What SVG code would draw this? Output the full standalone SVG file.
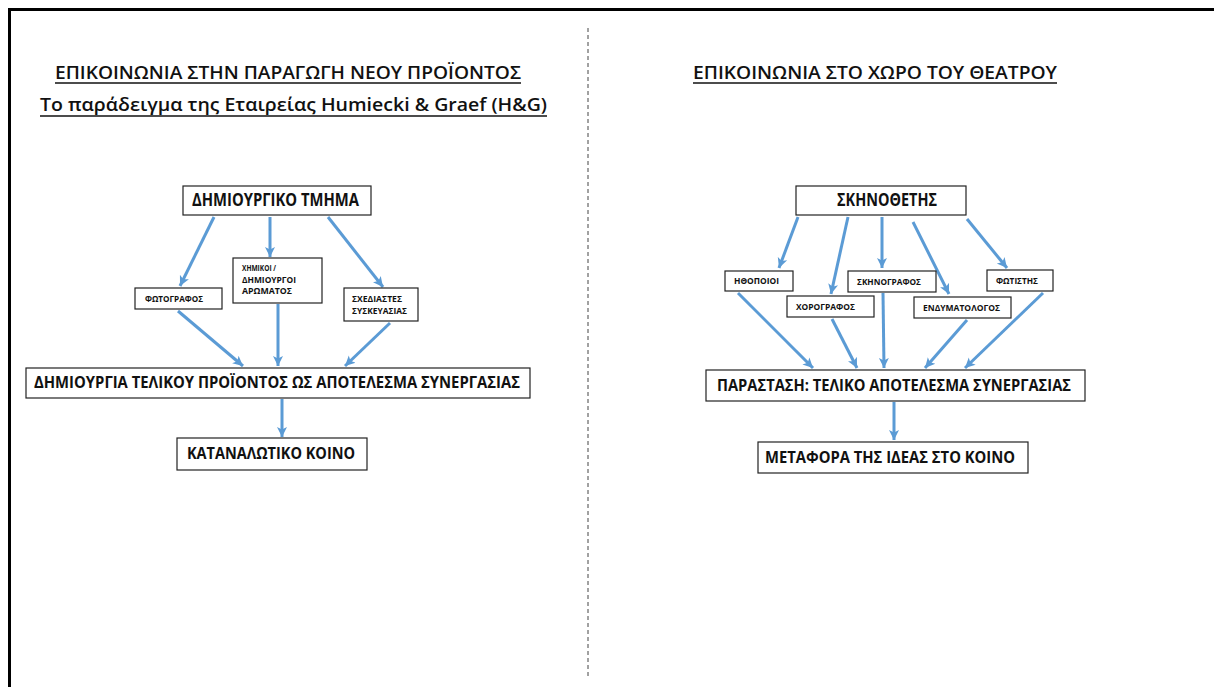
<svg xmlns="http://www.w3.org/2000/svg" width="1214" height="687" viewBox="0 0 1214 687">
<style>
.t{font-family:"Open Sans","Liberation Sans",sans-serif;font-weight:bold;fill:#111}
.h{font-family:"Open Sans","Liberation Sans",sans-serif;font-weight:600;fill:#111}
.box{fill:#fff;stroke:#222;stroke-width:1.2}
.c{stroke:#5B9BD5;stroke-width:3;fill:none;marker-end:url(#ah)}
.ul{stroke:#111;stroke-width:1.6}
</style>
<defs>
<marker id="ah" markerUnits="userSpaceOnUse" markerWidth="12" markerHeight="12" refX="10" refY="5" orient="auto" viewBox="0 0 12 10">
<path d="M0,0 L10,5 L0,10 L2.5,5 Z" fill="#5B9BD5"/>
</marker>
</defs>
<rect x="0" y="0" width="1214" height="687" fill="#fff"/>
<g id="frame">
<line x1="8" y1="9.5" x2="1214" y2="9.5" stroke="#000" stroke-width="3"/>
<line x1="9.5" y1="8" x2="9.5" y2="687" stroke="#000" stroke-width="3"/>
<line x1="588" y1="28" x2="588" y2="678" stroke="#444" stroke-width="1" stroke-dasharray="4,3"/>
</g>
<g id="titles">
<text class="h" x="55" y="79" font-size="18" textLength="466" lengthAdjust="spacingAndGlyphs">ΕΠΙΚΟΙΝΩΝΙΑ ΣΤΗΝ ΠΑΡΑΓΩΓΗ ΝΕΟΥ ΠΡΟΪΟΝΤΟΣ</text>
<line class="ul" x1="55" y1="83" x2="521" y2="83"/>
<text class="h" x="40" y="111" font-size="18" textLength="507" lengthAdjust="spacingAndGlyphs">Το παράδειγμα της Εταιρείας Humiecki &amp; Graef (H&amp;G)</text>
<line class="ul" x1="40" y1="116" x2="547" y2="116"/>
<text class="h" x="693" y="79" font-size="18" textLength="364" lengthAdjust="spacingAndGlyphs">ΕΠΙΚΟΙΝΩΝΙΑ ΣΤΟ ΧΩΡΟ ΤΟΥ ΘΕΑΤΡΟΥ</text>
<line class="ul" x1="693" y1="83" x2="1057" y2="83"/>
</g>
<g id="connectors">
<line class="c" x1="214" y1="217" x2="180" y2="286"/>
<line class="c" x1="270" y1="217" x2="270" y2="257"/>
<line class="c" x1="328" y1="217" x2="383" y2="287"/>
<line class="c" x1="178" y1="311" x2="243" y2="366"/>
<line class="c" x1="278" y1="304" x2="278" y2="366"/>
<line class="c" x1="390" y1="323" x2="345" y2="366"/>
<line class="c" x1="282" y1="399" x2="282" y2="437"/>
<line class="c" x1="798" y1="217" x2="779" y2="268"/>
<line class="c" x1="848" y1="217" x2="831" y2="294"/>
<line class="c" x1="882" y1="217" x2="882" y2="268"/>
<line class="c" x1="913" y1="222" x2="949" y2="294"/>
<line class="c" x1="967" y1="219" x2="1007" y2="268"/>
<line class="c" x1="738" y1="293" x2="813" y2="368"/>
<line class="c" x1="832" y1="319" x2="857" y2="368"/>
<line class="c" x1="883" y1="293" x2="884" y2="368"/>
<line class="c" x1="967" y1="320" x2="925" y2="368"/>
<line class="c" x1="1043" y1="293" x2="965" y2="368"/>
<line class="c" x1="894" y1="402" x2="894" y2="440"/>
</g>
<g id="n-dimiourgiko"><rect class="box" x="183" y="186" width="188" height="29"/><text class="t" x="192" y="206" font-size="17" textLength="167" lengthAdjust="spacingAndGlyphs">ΔΗΜΙΟΥΡΓΙΚΟ ΤΜΗΜΑ</text></g>
<g id="n-fotografos"><rect class="box" x="135" y="288" width="87" height="21"/><text class="t" x="145" y="302" font-size="8" textLength="58" lengthAdjust="spacingAndGlyphs">ΦΩΤΟΓΡΑΦΟΣ</text></g>
<g id="n-ximikoi"><rect class="box" x="233" y="258" width="89" height="45"/>
<text class="t" x="242" y="271" font-size="8" textLength="34" lengthAdjust="spacingAndGlyphs">ΧΗΜΙΚΟΙ /</text>
<text class="t" x="242" y="283" font-size="8" textLength="54" lengthAdjust="spacingAndGlyphs">ΔΗΜΙΟΥΡΓΟΙ</text>
<text class="t" x="242" y="294" font-size="8" textLength="50" lengthAdjust="spacingAndGlyphs">ΑΡΩΜΑΤΟΣ</text></g>
<g id="n-sxediastes"><rect class="box" x="344" y="288" width="74" height="33"/>
<text class="t" x="352" y="302" font-size="8" textLength="50" lengthAdjust="spacingAndGlyphs">ΣΧΕΔΙΑΣΤΕΣ</text>
<text class="t" x="352" y="314" font-size="8" textLength="55" lengthAdjust="spacingAndGlyphs">ΣΥΣΚΕΥΑΣΙΑΣ</text></g>
<g id="n-dimiourgia"><rect class="box" x="26" y="368" width="504" height="30"/><text class="t" x="34" y="388" font-size="16" textLength="486" lengthAdjust="spacingAndGlyphs">ΔΗΜΙΟΥΡΓΙΑ ΤΕΛΙΚΟΥ ΠΡΟΪΟΝΤΟΣ ΩΣ ΑΠΟΤΕΛΕΣΜΑ ΣΥΝΕΡΓΑΣΙΑΣ</text></g>
<g id="n-katanalotiko"><rect class="box" x="177" y="438" width="190" height="32"/><text class="t" x="187" y="459" font-size="16" textLength="168" lengthAdjust="spacingAndGlyphs">ΚΑΤΑΝΑΛΩΤΙΚΟ ΚΟΙΝΟ</text></g>
<g id="n-skinothetis"><rect class="box" x="796" y="186" width="170" height="29"/><text class="t" x="837" y="206" font-size="17" textLength="100" lengthAdjust="spacingAndGlyphs">ΣΚΗΝΟΘΕΤΗΣ</text></g>
<g id="n-ithopoioi"><rect class="box" x="725" y="271" width="68" height="20"/><text class="t" x="734" y="284" font-size="8" textLength="45" lengthAdjust="spacingAndGlyphs">ΗΘΟΠΟΙΟΙ</text></g>
<g id="n-xorografos"><rect class="box" x="787" y="296" width="87" height="21"/><text class="t" x="796" y="310" font-size="8" textLength="59" lengthAdjust="spacingAndGlyphs">ΧΟΡΟΓΡΑΦΟΣ</text></g>
<g id="n-skinografos"><rect class="box" x="848" y="271" width="88" height="21"/><text class="t" x="857" y="285" font-size="8" textLength="64" lengthAdjust="spacingAndGlyphs">ΣΚΗΝΟΓΡΑΦΟΣ</text></g>
<g id="n-endymatologos"><rect class="box" x="914" y="297" width="97" height="21"/><text class="t" x="923" y="311" font-size="8" textLength="77" lengthAdjust="spacingAndGlyphs">ΕΝΔΥΜΑΤΟΛΟΓΟΣ</text></g>
<g id="n-fotistis"><rect class="box" x="987" y="270" width="66" height="21"/><text class="t" x="996" y="284" font-size="8" textLength="42" lengthAdjust="spacingAndGlyphs">ΦΩΤΙΣΤΗΣ</text></g>
<g id="n-parastasi"><rect class="box" x="706" y="370" width="379" height="31"/><text class="t" x="717" y="391" font-size="16" textLength="354" lengthAdjust="spacingAndGlyphs">ΠΑΡΑΣΤΑΣΗ: ΤΕΛΙΚΟ ΑΠΟΤΕΛΕΣΜΑ ΣΥΝΕΡΓΑΣΙΑΣ</text></g>
<g id="n-metafora"><rect class="box" x="758" y="442" width="270" height="31"/><text class="t" x="765" y="463" font-size="16" textLength="250" lengthAdjust="spacingAndGlyphs">ΜΕΤΑΦΟΡΑ ΤΗΣ ΙΔΕΑΣ ΣΤΟ ΚΟΙΝΟ</text></g>
</svg>
